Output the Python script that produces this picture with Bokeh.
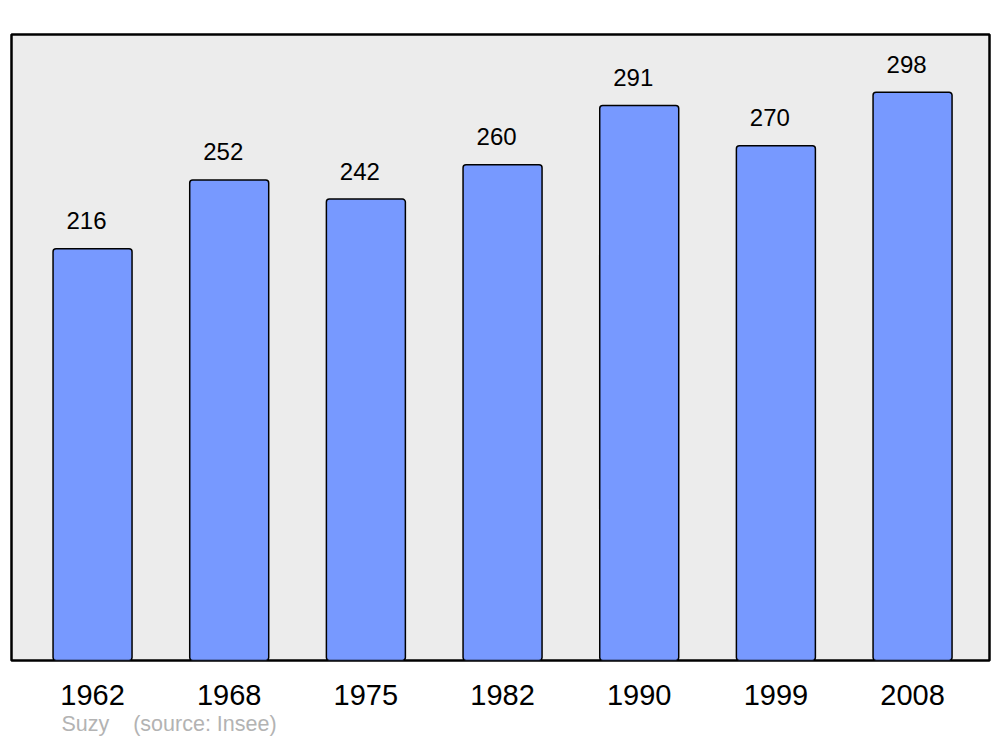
from bokeh.plotting import figure
from bokeh.models import ColumnDataSource, Range1d, FixedTicker, Title
from bokeh.core.properties import value
from bokeh.embed import file_html
from bokeh.resources import INLINE

years = ["1962", "1968", "1975", "1982", "1990", "1999", "2008"]
population = [216, 252, 242, 260, 291, 270, 298]
commune = "Suzy"
source_note = "(source: Insee)"

idx = list(range(len(years)))
src = ColumnDataSource(dict(x=idx, top=population, label=[str(v) for v in population]))

p = figure(width=992, height=739, output_backend="svg", toolbar_location=None,
           x_range=Range1d(-0.593, 6.563), y_range=Range1d(0, 328.3),
           y_axis_location=None,
           min_border_left=11, min_border_right=3, min_border_top=34, min_border_bottom=79)

p.background_fill_color = "#ececec"
p.border_fill_color = "white"
p.outline_line_color = "black"
p.outline_line_width = 2.5
p.xgrid.visible = False
p.ygrid.visible = False

p.vbar(x="x", top="top", bottom=0, width=0.578, source=src,
       fill_color="#7799ff", line_color="black", line_width=1.5, border_radius=3)

p.text(x="x", y="top", text="label", source=src, x_offset=-6, y_offset=-28,
       text_align="center", text_baseline="alphabetic",
       text_font=value("Liberation Sans"), text_font_size="24px", text_color="black")

ax = p.xaxis[0]
ax.ticker = FixedTicker(ticks=idx)
ax.major_label_overrides = {i: y for i, y in zip(idx, years)}
ax.axis_line_color = None
ax.major_tick_line_color = None
ax.minor_tick_line_color = None
ax.major_tick_out = 0
ax.major_tick_in = 0
ax.major_label_standoff = 24
ax.major_label_text_font = "Liberation Sans"
ax.major_label_text_font_size = "29px"
ax.major_label_text_color = "black"

note = commune + "\u00a0\u00a0\u00a0\u00a0" + source_note
p.add_layout(Title(text=note, align="left", offset=50, standoff=5,
                   text_font="Liberation Sans", text_font_size="21.5px",
                   text_font_style="normal", text_color="#b3b3b3"), "below")

open("out.html", "w").write(file_html(p, INLINE))
